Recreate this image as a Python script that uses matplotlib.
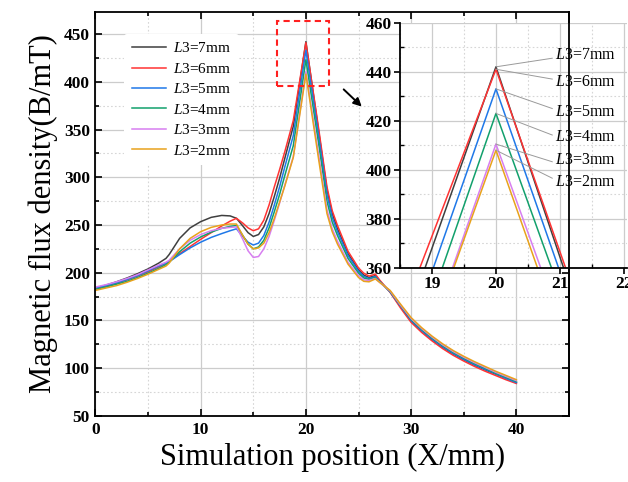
import matplotlib
matplotlib.use("Agg")
import matplotlib.pyplot as plt
from matplotlib.lines import Line2D
from matplotlib.patches import Rectangle, FancyArrowPatch
from matplotlib.ticker import MultipleLocator

plt.rcParams["font.family"] = ["Liberation Serif", "DejaVu Serif"]
plt.rcParams["mathtext.fontset"] = "custom"
plt.rcParams["mathtext.it"] = "Liberation Serif:italic"
plt.rcParams["mathtext.rm"] = "Liberation Serif"

# Position along the simulation path (mm)
x = [0, 1, 2, 3, 4, 5, 6, 6.7, 7, 8, 9, 10, 11, 12, 12.8, 13.4, 14, 14.5, 15, 15.5,
     16, 16.5, 17, 17.5, 18, 18.8, 20, 21.2, 22, 22.5, 23, 24, 25, 25.5, 26, 26.6, 27, 28,
     29, 30, 31, 32, 33, 34, 35, 36, 37, 38, 39, 40]

# Magnetic flux density (mT) for each L3
b_7mm = [184, 187, 190.5, 194.5, 199, 204, 210, 215, 219, 236, 247, 253.5, 258, 260, 259.5,
         257, 249, 242, 238, 240, 248, 262, 280, 299, 320, 353.3, 442, 349, 287, 262, 246,
         220, 203, 197.5, 195, 197, 191.5, 180, 164.5, 149.5, 139, 130, 122, 115, 109,
         103.5, 98.5, 94, 89.5, 85]
b_6mm = [183.5, 186, 189, 192.5, 196.5, 201, 206, 210, 212, 220, 227.5, 235, 242, 249, 254,
         257, 252, 247, 244, 246, 255, 271, 290, 308, 327, 359.4, 441, 351.8, 290, 265, 249.5,
         222.5, 205, 199.5, 196.5, 198.5, 192.5, 179.5, 163, 148, 137.5, 128.5, 120.5,
         113.5, 107.5, 102, 97, 92.5, 88, 84]
b_5mm = [184, 186.5, 189.5, 193, 197, 202, 207, 210, 211.5, 219, 226, 232, 237, 241, 244,
         246, 238, 232, 229, 231, 239, 253, 271, 290, 311, 343.6, 433, 343.6, 282, 258, 243,
         218, 201.5, 196, 194, 196, 191, 180, 165, 150, 139.5, 130.5, 122.5, 115.5, 109.5,
         104, 99, 94.5, 89.5, 85]
b_4mm = [182.5, 185, 188, 191, 195, 199.5, 204.5, 208.5, 211, 222, 231, 237.5, 242.5, 246.5,
         248.5, 249.5, 239, 230, 225, 227, 234, 247, 264, 282, 302, 333, 423, 336, 275,
         253, 239, 215, 199.5, 194.5, 193, 195, 190.5, 180.5, 165.5, 151, 140.5, 131.5,
         123.5, 116.5, 110.5, 105, 100, 95, 90.5, 86]
b_3mm = [185, 187.5, 190.5, 194, 198, 203, 208, 211, 213, 225, 234, 240, 244, 246.5, 247.5,
         248, 235, 223, 216, 217, 225, 238, 255, 273, 292, 321.4, 410.5, 324, 266, 246, 233,
         211, 197, 192.5, 192, 194, 190, 181, 166, 152, 141.5, 132.5, 124.5, 117.5, 111.5,
         106, 101, 96, 91.5, 87]
b_2mm = [181.5, 184, 186.5, 190, 194, 198.5, 203.5, 207, 210, 225, 236, 243, 247.5, 250, 251,
         251, 239, 230, 225, 226, 231, 242, 257, 274, 291, 320.8, 408, 319.4, 262, 243, 230,
         209, 195, 191, 190.5, 193.5, 190, 181.5, 167, 153, 142.5, 133.5, 125.5, 118.5,
         112.5, 107, 102, 97, 92.5, 88]

labels = ["7mm", "6mm", "5mm", "4mm", "3mm", "2mm"]
series = [b_7mm, b_6mm, b_5mm, b_4mm, b_3mm, b_2mm]
colors = ["#3f3f3f", "#ff3333", "#1f78e8", "#12a06c", "#d77ff0", "#e8a21c"]

# Label positions for the zoomed view (y of text and of leader end)
peak_x = 20
label_y = [446.8, 436.0, 423.7, 413.5, 404.0, 395.2]
leader_end = [445.5, 437.0, 425.0, 414.2, 403.3, 396.6]

fig = plt.figure(figsize=(6.28, 4.82), dpi=100)
ax = fig.add_axes([0.152, 0.137, 0.754, 0.838])

for y, c, lab in zip(series, colors, labels):
    ax.plot(x, y, color=c, lw=1.1, label=r"$\mathit{L3}$=" + lab)

ax.set_xlim(0, 45)
ax.set_ylim(50, 473)
ax.xaxis.set_major_locator(MultipleLocator(10))
ax.xaxis.set_minor_locator(MultipleLocator(5))
ax.yaxis.set_major_locator(MultipleLocator(50))
ax.yaxis.set_minor_locator(MultipleLocator(25))
ax.grid(which="major", color="#cccccc", lw=0.9, ls="-")
ax.grid(which="minor", color="#d6d6d6", lw=0.8, ls=(0, (1.5, 2)))
ax.set_axisbelow(True)
ax.tick_params(which="both", direction="in", top=True, right=True, width=1.2)
ax.tick_params(which="major", length=5, labelsize=12.5, pad=4)
ax.tick_params(which="minor", length=3)
for lbl in ax.get_xticklabels() + ax.get_yticklabels():
    lbl.set_fontweight("bold")
for sp in ax.spines.values():
    sp.set_linewidth(1.3)
ax.set_xlabel("Simulation position (X/mm)", fontsize=22, labelpad=4)
ax.set_ylabel("Magnetic flux density(B/mT)", fontsize=22, labelpad=4)

leg = ax.legend(loc="upper left", bbox_to_anchor=(0.045, 0.965), frameon=True,
                fontsize=11, handlelength=2.2, labelspacing=0.42, borderpad=0.5,
                handletextpad=0.5)
leg.get_frame().set_edgecolor("none")
leg.get_frame().set_facecolor("white")
leg.get_frame().set_alpha(1.0)

# Highlight box around the peak and arrow towards the zoomed view
ax.add_patch(Rectangle((17.3, 395.5), 22.2 - 17.3, 463.5 - 395.5, fill=False,
                       ec="#ff2020", lw=1.5, ls=(0, (3, 2)), zorder=5))
ax.add_patch(FancyArrowPatch((23.4, 394), (25.5, 372), arrowstyle="-|>",
                             mutation_scale=12, color="black", lw=1.4, zorder=5))

# Zoomed view of the peak
axi = fig.add_axes([0.637, 0.444, 0.3615, 0.509])
for y, c in zip(series, colors):
    axi.plot(x, y, color=c, lw=1.1)
axi.set_xlim(18.5, 22.05)
axi.set_ylim(360, 460)
axi.xaxis.set_major_locator(MultipleLocator(1))
axi.xaxis.set_minor_locator(MultipleLocator(0.5))
axi.yaxis.set_major_locator(MultipleLocator(20))
axi.yaxis.set_minor_locator(MultipleLocator(10))
axi.grid(which="major", color="#cccccc", lw=0.9, ls="-")
axi.grid(which="minor", color="#d6d6d6", lw=0.8, ls=(0, (1.5, 2)))
axi.set_axisbelow(True)
axi.tick_params(which="major", direction="out", length=4, width=1.2, labelsize=12.5, pad=2)
axi.tick_params(which="minor", direction="in", length=3, width=1.0)
for lbl in axi.get_xticklabels() + axi.get_yticklabels():
    lbl.set_fontweight("bold")
for sp in axi.spines.values():
    sp.set_linewidth(1.3)
axi.spines["right"].set_visible(False)
axi.spines["top"].set_visible(False)

series_peaks = [max(s) for s in series]
for lab, py, ly, le in zip(labels, series_peaks, label_y, leader_end):
    axi.plot([peak_x, 20.88], [py, le], color="#9a9a9a", lw=0.7)
    axi.text(20.92, ly, r"$\mathit{L3}$=" + lab, fontsize=11.5, va="center", ha="left")

# Right spine of the main frame stays on top of the zoomed view
fig.add_artist(Line2D([1, 1], [0, 1], transform=ax.transAxes, color="black", lw=1.3,
                      zorder=10))

fig.savefig("out.png", dpi=100)
